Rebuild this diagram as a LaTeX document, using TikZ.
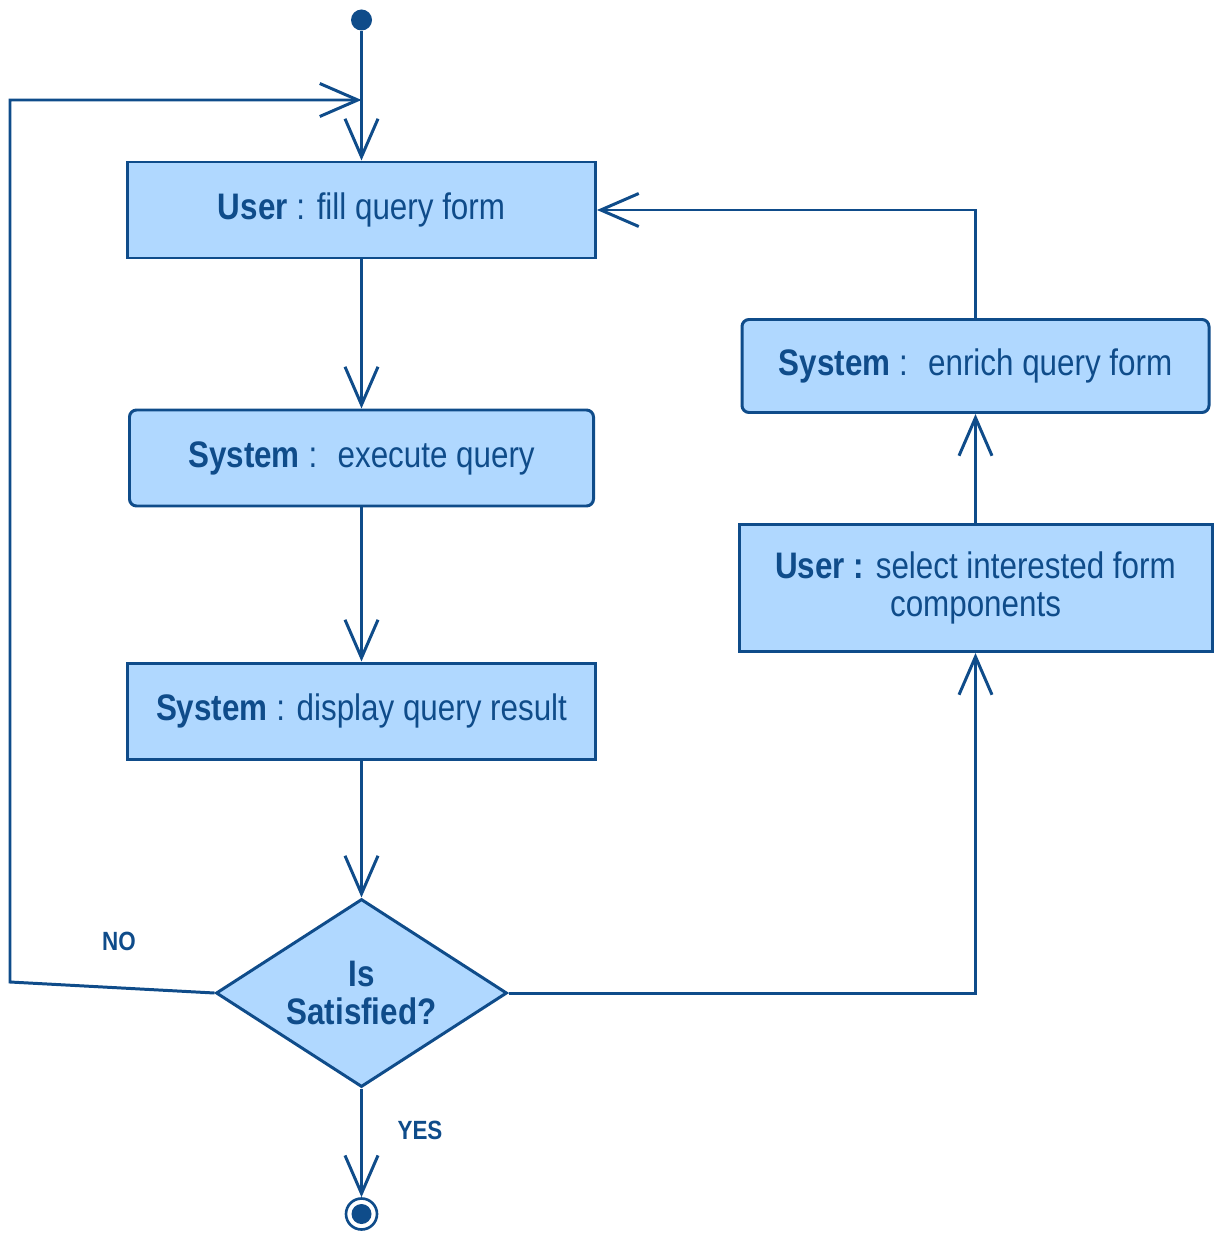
\documentclass[tikz,border=0pt]{standalone}
\usepackage{fontspec}
\setmainfont{Liberation Sans}[FakeStretch=0.85]
\usetikzlibrary{arrows.meta,shapes.geometric}
\definecolor{umlfill}{HTML}{B0D8FF}
\definecolor{umlline}{HTML}{0F4C8A}

\begin{document}
\begin{tikzpicture}[node distance=5cm,>={Straight Barb[length=7.6mm,width=6.6mm]},auto]
		\tikzstyle{action}=[rectangle, draw=umlline, fill=umlfill, line width=1.7pt, minimum width=9.36cm, minimum height=1.92cm, text=umlline, align=center, font=\fontsize{21}{22}\selectfont]
		\tikzstyle{activity}=[action, rounded corners=4pt]
		\tikzstyle{decision}=[diamond, aspect=1.6, draw=umlline, fill=umlfill, line width=1.7pt, minimum width=5.82cm, minimum height=3.76cm, inner sep=0pt, text=umlline, align=center, font=\fontsize{21}{22}\selectfont\bfseries]
		\tikzstyle{flow}=[->, draw=umlline, line width=1.7pt]
		\tikzstyle{guard}=[text=umlline, font=\fontsize{15}{17}\selectfont\bfseries]

		\useasboundingbox (0,0) rectangle (24.42,-24.66);

		\node [action] (fill) at (7.23,-4.2) {\textbf{User} : fill query form};
		\node [activity, minimum width=9.28cm] (exec) [below of=fill, node distance=4.96cm] {\textbf{System} :~ execute query};
		\node [action] (show) [below of=exec, node distance=5.06cm] {\textbf{System} : display query result};
		\node [decision] (sat) [below of=show, node distance=5.64cm] {Is\\Satisfied?};
		\node [activity, minimum width=9.34cm, minimum height=1.86cm] (enrich) at (19.51,-7.32) {\textbf{System} :~ enrich query form};
		\node [action, minimum width=9.46cm, minimum height=2.54cm] (pick) [below of=enrich, node distance=4.44cm] {\textbf{User :} select interested form\\components};

		\node [circle, fill=umlline, minimum size=0.42cm, inner sep=0pt] (start) [above of=fill, node distance=3.8cm] {};
		\node [circle, draw=umlline, fill=white, line width=1.5pt, minimum size=0.62cm, inner sep=0pt] (stop) [below of=sat, node distance=4.42cm] {};
		\fill [umlline] (stop.center) circle (0.2cm);

		\coordinate (join) at (7.23,-2.0);
		\coordinate (loopbot) at (0.2,-19.64);
		\coordinate (looptop) at (0.2,-2.0);

		\draw [flow] (start) -- (fill);
		\draw [flow] (fill) -- (exec);
		\draw [flow] (exec) -- (show);
		\draw [flow] (show) -- (sat);
		\draw [flow] (sat) -- (stop);
		\draw [flow] (sat.west) -- (loopbot) -- (looptop) -- (join);
		\draw [flow] (sat.east) -| (pick);
		\draw [flow] (pick) -- (enrich);
		\draw [flow] (enrich) |- (fill);

		\node [guard] (no) at (2.38,-18.82) {NO};
		\node [guard] (yes) at (8.4,-22.6) {YES};
	\end{tikzpicture}
\end{document}
